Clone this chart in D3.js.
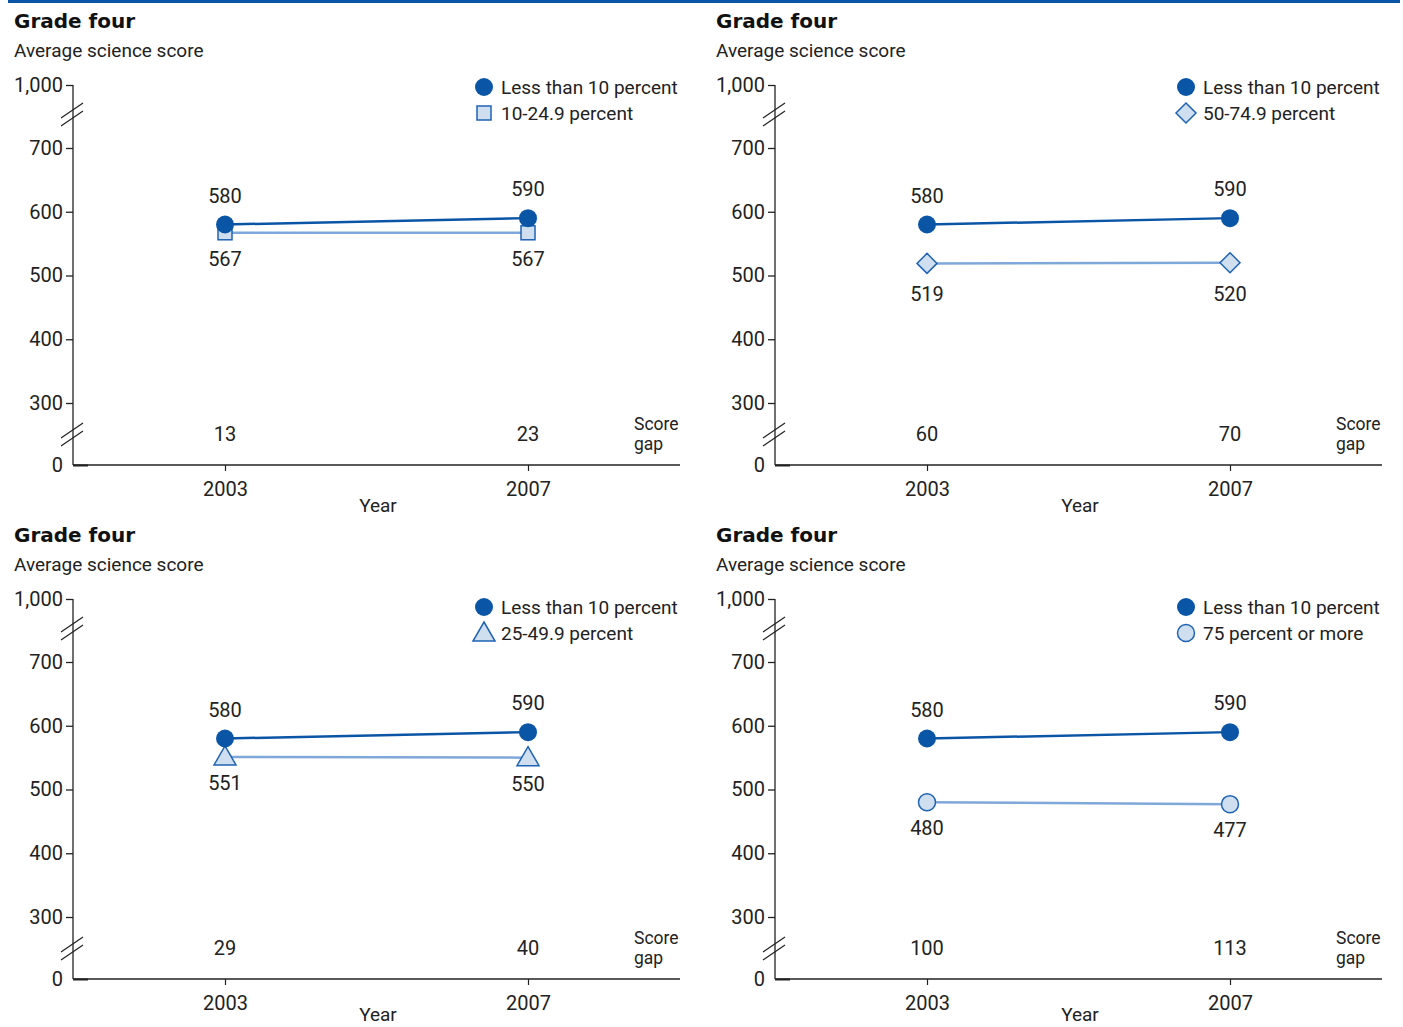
<!DOCTYPE html>
<html><head><meta charset="utf-8">
<script src="https://cdn.jsdelivr.net/npm/d3@7/dist/d3.min.js"></script>
<style>
body{margin:0;background:#fff;}
svg{display:block;font-family:Roboto,"Noto Sans",sans-serif;}
</style></head>
<body><svg id="chart" width="1403" height="1027"></svg>
<script>
// ---- data ----
const years = ["2003", "2007"];
const yTickValues = [0, 300, 400, 500, 600, 700, 1000];
const yTickLabels = ["0", "300", "400", "500", "600", "700", "1,000"];
const panelTitle = "Grade four";
const panelSubtitle = "Average science score";
const baseSeriesName = "Less than 10 percent";
const baseValues = [580, 590];
const compareNames = ["10-24.9 percent", "50-74.9 percent", "25-49.9 percent", "75 percent or more"];
const compareValues = [[567, 567], [519, 520], [551, 550], [480, 477]];
const compareShapes = ["square", "diamond", "triangle", "circle"];
const scoreGaps = [[13, 23], [60, 70], [29, 40], [100, 113]];

// ---- style ----
const dark = "#0a55a5", lightLine = "#7fa8da", lightFill = "#cfdff0", lightStroke = "#1f63b3";
const svg = d3.select("#chart");
svg.append("rect").attr("x", 8).attr("y", 0).attr("width", 1392).attr("height", 3).attr("fill", dark);

const offsets = [[0, 0], [702, 0], [0, 514], [702, 514]];

function marker(g, shape, x, y) {
  if (shape === "square") {
    g.append("rect").attr("x", x - 7).attr("y", y - 7).attr("width", 14).attr("height", 14)
      .attr("fill", lightFill).attr("stroke", lightStroke).attr("stroke-width", 1.5);
  } else if (shape === "diamond") {
    g.append("path").attr("d", `M${x},${y-10}L${x+10},${y}L${x},${y+10}L${x-10},${y}Z`)
      .attr("fill", lightFill).attr("stroke", lightStroke).attr("stroke-width", 1.5);
  } else if (shape === "triangle") {
    g.append("path").attr("d", `M${x},${y-11}L${x+11},${y+8}L${x-11},${y+8}Z`)
      .attr("fill", lightFill).attr("stroke", lightStroke).attr("stroke-width", 1.5);
  } else {
    g.append("circle").attr("cx", x).attr("cy", y).attr("r", 8.5)
      .attr("fill", lightFill).attr("stroke", lightStroke).attr("stroke-width", 1.5);
  }
}

offsets.forEach(([ox, oy], i) => {
  const g = svg.append("g").attr("transform", `translate(${ox},${oy})`);
  const y = d3.scaleLinear().domain([0, 300, 700, 1000]).range([465, 403, 148, 85]);
  const x = d3.scalePoint().domain(years).range([225, 528]);
  const bottomRow = oy > 0;

  g.append("text").attr("x", 14).attr("y", 28).attr("font-size", 20).attr("font-weight", 700)
    .attr("font-family", "'DejaVu Sans',sans-serif").attr("fill", "#111").text(panelTitle);
  g.append("text").attr("x", 14).attr("y", 57).attr("font-size", 19).attr("fill", "#222").text(panelSubtitle);

  // y axis
  const yAxis = d3.axisLeft(y).tickValues(yTickValues).tickSize(7).tickPadding(3)
    .tickFormat((d, k) => yTickLabels[k]);
  const ya = g.append("g").attr("transform", "translate(73,0)").call(yAxis);
  ya.select(".domain").attr("stroke", "#222").attr("stroke-width", 1.3).attr("d", "M0,85V465");
  ya.selectAll(".tick line").attr("stroke", "#222").attr("stroke-width", 1.3);
  ya.selectAll(".tick").filter(d => d === 0).select("line").attr("x2", 15).attr("x1", 0).attr("stroke-width", 2);
  ya.selectAll(".tick text").attr("font-size", 20).attr("fill", "#222").attr("font-family", "Roboto,sans-serif");

  // axis breaks
  [114, 434].forEach(cy => {
    [-4, 4].forEach(dy => {
      g.append("line").attr("x1", 61).attr("y1", cy + dy + 8).attr("x2", 83).attr("y2", cy + dy - 7)
        .attr("stroke", "#222").attr("stroke-width", 1.2);
    });
  });

  // x axis
  g.append("line").attr("x1", 73).attr("x2", 680).attr("y1", 465).attr("y2", 465)
    .attr("stroke", "#222").attr("stroke-width", 1.3);
  const xa = g.append("g").attr("transform", "translate(0,465)")
    .call(d3.axisBottom(x).tickSize(6).tickPadding(11));
  xa.select(".domain").remove();
  xa.selectAll(".tick line").attr("stroke", "#222").attr("stroke-width", 1.2);
  xa.selectAll(".tick text").attr("font-size", 20).attr("fill", "#222").attr("font-family", "Roboto,sans-serif");
  g.append("text").attr("x", 378).attr("y", bottomRow ? 507 : 512).attr("text-anchor", "middle").attr("font-size", 19)
    .attr("fill", "#222").text("Year");

  // score gap
  g.selectAll(".gap").data(scoreGaps[i]).enter().append("text")
    .attr("x", (d, k) => x(years[k])).attr("y", 441).attr("text-anchor", "middle")
    .attr("font-size", 20).attr("fill", "#222").text(d => d);
  const sg = g.append("text").attr("x", 634).attr("y", 430).attr("font-size", 17.5).attr("fill", "#222");
  sg.append("tspan").attr("x", 634).attr("y", 430).text("Score");
  sg.append("tspan").attr("x", 634).attr("y", 450).text("gap");

  // lines
  const line = d3.line().x((d, k) => x(years[k])).y(d => y(d));
  g.append("path").datum(compareValues[i]).attr("d", line).attr("fill", "none")
    .attr("stroke", lightLine).attr("stroke-width", 2.5);
  g.append("path").datum(baseValues).attr("d", line).attr("fill", "none")
    .attr("stroke", dark).attr("stroke-width", 2.5);
  compareValues[i].forEach((v, k) => marker(g, compareShapes[i], x(years[k]), y(v)));
  baseValues.forEach((v, k) => {
    g.append("circle").attr("cx", x(years[k])).attr("cy", y(v)).attr("r", 9).attr("fill", dark);
  });
  // value labels
  baseValues.forEach((v, k) => {
    g.append("text").attr("x", x(years[k])).attr("y", y(v) - 22).attr("text-anchor", "middle")
      .attr("font-size", 20).attr("fill", "#222").text(v);
  });
  const below = compareShapes[i] === "diamond" ? 38 : 33;
  compareValues[i].forEach((v, k) => {
    g.append("text").attr("x", x(years[k])).attr("y", y(v) + below).attr("text-anchor", "middle")
      .attr("font-size", 20).attr("fill", "#222").text(v);
  });

  // legend
  const ly = bottomRow ? 6 : 0;
  g.append("circle").attr("cx", 484).attr("cy", 87 + ly).attr("r", 9).attr("fill", dark);
  g.append("text").attr("x", 501).attr("y", 94 + ly).attr("font-size", 19).attr("fill", "#222").text(baseSeriesName);
  marker(g, compareShapes[i], 484, 113 + ly);
  g.append("text").attr("x", 501).attr("y", 120 + ly).attr("font-size", 19).attr("fill", "#222").text(compareNames[i]);
});
</script></body></html>
